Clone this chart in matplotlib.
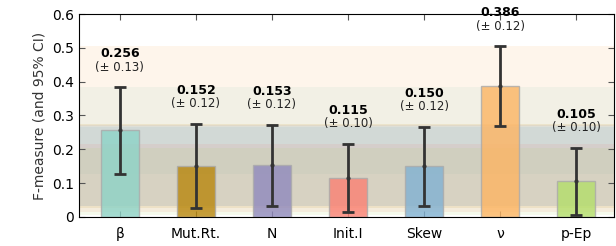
import numpy as np
import matplotlib
matplotlib.use('Agg')
import matplotlib.pyplot as plt

# data
labels = ['β', 'Mut.Rt.', 'N', 'Init.I', 'Skew', 'ν', 'p-Ep']
means = [0.256, 0.152, 0.153, 0.115, 0.150, 0.386, 0.105]
ci = [0.13, 0.12, 0.12, 0.10, 0.12, 0.12, 0.10]
ci_low = [0.127, 0.027, 0.033, 0.015, 0.033, 0.268, 0.005]
ci_high = [0.384, 0.275, 0.272, 0.217, 0.267, 0.505, 0.205]
colors = ['#8dd3c7', '#b8860b', '#8f89bd', '#fb8072', '#80b1d3', '#fdb462', '#b3de69']

x = np.arange(len(labels))

fig = plt.figure(figsize=(6.16, 2.46), dpi=100)
ax = fig.add_axes([0.128, 0.118, 0.869, 0.825])

# CI bands across the whole plot
for lo, hi, c in zip(ci_low, ci_high, colors):
    ax.axhspan(lo, hi, color=c, alpha=0.12, lw=0, zorder=0)

ax.bar(x, means, width=0.5, color=colors, alpha=0.8, edgecolor='#aaaaaa', linewidth=1, zorder=2)
yerr = [np.array(means) - np.array(ci_low), np.array(ci_high) - np.array(means)]
ax.errorbar(x, means, yerr=yerr, fmt='o', ms=2, color='#333333', ecolor='#333333',
            elinewidth=2, capsize=4, capthick=2, zorder=3)

for xi, m, e, hi in zip(x, means, ci, ci_high):
    ax.text(xi, hi + 0.08, '%.3f' % m, ha='center', va='bottom', fontsize=9, fontweight='bold')
    ax.text(xi, hi + 0.04, '(± %.2f)' % e, ha='center', va='bottom', fontsize=8.5, color='#222222')

ax.set_xlim(-0.54, 6.5)
ax.set_ylim(0, 0.6)
ax.set_xticks(x)
ax.set_xticklabels(labels, fontsize=10)
ax.set_yticks([0, 0.1, 0.2, 0.3, 0.4, 0.5, 0.6])
ax.set_yticklabels(['0', '0.1', '0.2', '0.3', '0.4', '0.5', '0.6'], fontsize=10)
ax.tick_params(direction='in', top=True, right=True, length=4, color='#555555')
ax.tick_params(axis='x', pad=7)
ax.set_ylabel('F-measure (and 95% CI)', fontsize=10, color='#333333')

plt.savefig('out.png', dpi=100)
